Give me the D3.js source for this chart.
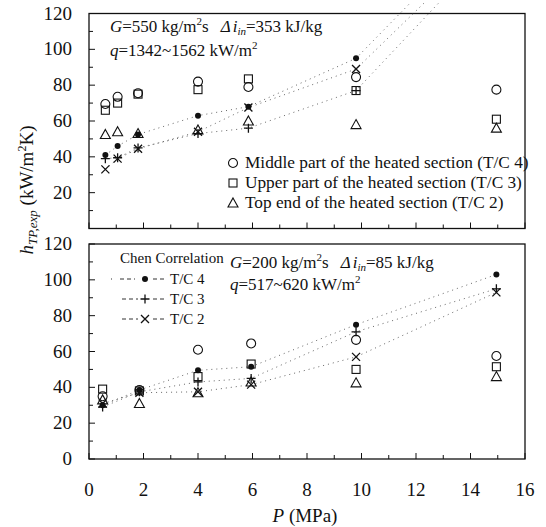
<!DOCTYPE html>
<html>
<head>
<meta charset="utf-8">
<script src="https://cdn.jsdelivr.net/npm/d3@7"></script>
<style>
  body { margin: 0; background: #fff; }
</style>
</head>
<body>
<script>
const W = 546, H = 527;
const FONT = '"Liberation Serif", "Times New Roman", serif';

// --- data ---
const xTicks = [0, 2, 4, 6, 8, 10, 12, 14, 16];
const yTicks = [0, 20, 40, 60, 80, 100, 120];

// upper panel: G=550
const topP      = [0.6, 1.05, 1.8, 4.0, 5.85, 9.8, 14.95];
const topMiddle = [69.5, 73.5, 75.5, 82, 79, 84.5, 77.5];   // T/C 4, open circle
const topUpper  = [66, 70, 75, 77.5, 83.5, 77, 61];         // T/C 3, open square
const topEnd    = [52.5, 54, 53, 55, 60, 58, 56];           // T/C 2, open triangle
const topChen4  = [41, 46, 52.5, 63, 68, 95, 175];
const topChen3  = [39, 39.5, 45, 53, 56, 77, 160];
const topChen2  = [33, 39, 44.5, 54, 67.5, 89, 165];

// lower panel: G=200
const botP      = [0.5, 1.85, 4.0, 5.95, 9.8, 14.95];
const botMiddle = [35, 38.5, 61, 64.5, 66.5, 57.5];
const botUpper  = [39, 38, 46, 53, 50, 51.5];
const botEnd    = [33, 31, 37, 43, 42.5, 46];
const botChen4  = [30, 38.5, 49.5, 51.5, 75, 103];
const botChen3  = [29, 37.5, 43, 45, 71, 95];
const botChen2  = [31, 37, 37.5, 41.5, 57, 93];

const svg = d3.select('body').append('svg')
  .attr('width', W).attr('height', H)
  .style('font-family', FONT);

const x = d3.scaleLinear().domain([0, 16]).range([89, 525]);

// marker shapes
const marks = {
  circle:   (g) => g.append('circle').attr('r', 4.5).attr('fill', 'none').attr('stroke', '#111').attr('stroke-width', 1.1),
  square:   (g) => g.append('rect').attr('x', -4).attr('y', -4).attr('width', 8).attr('height', 8).attr('fill', 'none').attr('stroke', '#111').attr('stroke-width', 1.1),
  triangle: (g) => g.append('path').attr('d', 'M0,-5L5,4H-5Z').attr('fill', 'none').attr('stroke', '#111').attr('stroke-width', 1.1),
  dot:      (g) => g.append('circle').attr('r', 3).attr('fill', '#111'),
  plus:     (g) => g.append('path').attr('d', 'M-4.5,0H4.5M0,-4.5V4.5').attr('stroke', '#111').attr('stroke-width', 1.3),
  cross:    (g) => g.append('path').attr('d', 'M-4,-4L4,4M-4,4L4,-4').attr('stroke', '#111').attr('stroke-width', 1.3)
};

function panel(id, yTop, yBottom, P, series, chen, showXLabels, showZero) {
  const y = d3.scaleLinear().domain([0, 120]).range([yBottom, yTop]);
  const g = svg.append('g');
  const clipTop = id === 'c1' ? 2 : yTop;

  svg.append('clipPath').attr('id', id)
    .append('rect').attr('x', x(0)).attr('y', clipTop)
    .attr('width', x(16) - x(0)).attr('height', yBottom - clipTop);

  // frame
  g.append('rect').attr('x', x(0)).attr('y', yTop)
    .attr('width', x(16) - x(0)).attr('height', yBottom - yTop)
    .attr('fill', 'none').attr('stroke', '#111').attr('stroke-width', 1.3);

  // y ticks inward
  d3.range(0, 121, 10).forEach(v => {
    g.append('line').attr('x1', x(0)).attr('x2', x(0) + (v % 20 === 0 ? 6 : 4))
      .attr('y1', y(v)).attr('y2', y(v)).attr('stroke', '#111');
  });
  yTicks.filter(v => showZero || v > 0).forEach(v => {
    g.append('text').attr('x', 72).attr('y', y(v) + 6)
      .attr('text-anchor', 'end').attr('font-size', 19).attr('fill', '#111').text(v);
  });

  // x ticks inward
  d3.range(0, 17, 1).forEach(v => {
    g.append('line').attr('x1', x(v)).attr('x2', x(v))
      .attr('y1', yBottom).attr('y2', yBottom - (v % 2 === 0 ? 6 : 4)).attr('stroke', '#111');
  });
  if (showXLabels) {
    xTicks.forEach(v => {
      g.append('text').attr('x', x(v)).attr('y', yBottom + 37)
        .attr('text-anchor', 'middle').attr('font-size', 19).attr('fill', '#111').text(v);
    });
  }

  const clipped = g.append('g').attr('clip-path', `url(#${id})`);

  // Chen correlation dotted lines
  const line = d3.line().x((d, i) => x(P[i])).y(d => y(d));
  chen.forEach(s => {
    clipped.append('path').attr('d', line(s.values))
      .attr('fill', 'none').attr('stroke', '#666').attr('stroke-width', 1)
      .attr('stroke-dasharray', '1,4');
  });

  // markers
  series.concat(chen).forEach(s => {
    s.values.forEach((v, i) => {
      const m = clipped.append('g').attr('transform', `translate(${x(P[i])},${y(v)})`);
      marks[s.shape](m);
    });
  });
  return y;
}

panel('c1', 13.5, 228.5, topP,
  [{values: topMiddle, shape: 'circle'}, {values: topUpper, shape: 'square'}, {values: topEnd, shape: 'triangle'}],
  [{values: topChen4, shape: 'dot'}, {values: topChen3, shape: 'plus'}, {values: topChen2, shape: 'cross'}],
  false, false);

panel('c2', 244, 459, botP,
  [{values: botMiddle, shape: 'circle'}, {values: botUpper, shape: 'square'}, {values: botEnd, shape: 'triangle'}],
  [{values: botChen4, shape: 'dot'}, {values: botChen3, shape: 'plus'}, {values: botChen2, shape: 'cross'}],
  true, true);

// condition annotations
function condText(x0, y0, parts) {
  const t = svg.append('text').attr('x', x0).attr('y', y0).attr('font-size', 17).attr('fill', '#111');
  parts.forEach(p => {
    const s = t.append('tspan').text(p.t);
    if (p.i) s.attr('font-style', 'italic');
    if (p.sup) s.attr('dy', -7).attr('font-size', 11);
    if (p.down) s.attr('dy', p.down);
    if (p.sub) s.attr('dy', 3).attr('font-size', 11);
    if (p.dx) s.attr('dx', p.dx);
  });
}
condText(110, 32, [{t: 'G', i: 1}, {t: '=550 kg/m'}, {t: '2', sup: 1}, {t: 's', down: 7},
  {t: 'Δ', i: 1, dx: 12}, {t: 'i', i: 1, dx: 2}, {t: 'in', i: 1, sub: 1}, {t: '=353 kJ/kg', down: -3}]);
condText(110, 56, [{t: 'q', i: 1}, {t: '=1342~1562 kW/m'}, {t: '2', sup: 1}]);
condText(230, 268, [{t: 'G', i: 1}, {t: '=200 kg/m'}, {t: '2', sup: 1}, {t: 's', down: 7},
  {t: 'Δ', i: 1, dx: 12}, {t: 'i', i: 1, dx: 2}, {t: 'in', i: 1, sub: 1}, {t: '=85 kJ/kg', down: -3}]);
condText(230, 290, [{t: 'q', i: 1}, {t: '=517~620 kW/m'}, {t: '2', sup: 1}]);

// top legend (measured data)
const legTop = [
  {shape: 'circle', label: 'Middle part of the heated section (T/C 4)'},
  {shape: 'square', label: 'Upper part of the heated section (T/C 3)'},
  {shape: 'triangle', label: 'Top end of the heated section (T/C 2)'}
];
legTop.forEach((d, i) => {
  const yy = 163 + i * 20;
  marks[d.shape](svg.append('g').attr('transform', `translate(233,${yy})`));
  svg.append('text').attr('x', 245).attr('y', yy + 5).attr('font-size', 17.3)
    .attr('fill', '#111').text(d.label);
});

// bottom legend (Chen correlation)
svg.append('text').attr('x', 120).attr('y', 263).attr('font-size', 15)
  .attr('fill', '#111').text('Chen Correlation');
const legBot = [
  {shape: 'dot', label: 'T/C 4', x0: 111},
  {shape: 'plus', label: 'T/C 3', x0: 122},
  {shape: 'cross', label: 'T/C 2', x0: 122}
];
legBot.forEach((d, i) => {
  const yy = 279 + i * 20;
  svg.append('line').attr('x1', d.x0).attr('x2', 138).attr('y1', yy).attr('y2', yy)
    .attr('stroke', '#333').attr('stroke-dasharray', i === 0 ? '1,8,4,3,4,3' : '4,3');
  svg.append('line').attr('x1', 153).attr('x2', 166).attr('y1', yy).attr('y2', yy)
    .attr('stroke', '#333').attr('stroke-dasharray', '4,3');
  marks[d.shape](svg.append('g').attr('transform', `translate(145,${yy})`));
  svg.append('text').attr('x', 170).attr('y', yy + 5).attr('font-size', 15)
    .attr('fill', '#111').text(d.label);
});

// axis titles
const yl = svg.append('text').attr('transform', 'translate(33,190) rotate(-90)')
  .attr('text-anchor', 'middle').attr('font-size', 19).attr('fill', '#111');
yl.append('tspan').attr('font-style', 'italic').text('h');
yl.append('tspan').attr('font-style', 'italic').attr('font-size', 13).attr('dy', 4).text('TP,exp');
yl.append('tspan').attr('dy', -4).text(' (kW/m');
yl.append('tspan').attr('font-size', 12).attr('dy', -7).text('2');
yl.append('tspan').attr('dy', 7).text('K)');

const xl = svg.append('text').attr('x', 305).attr('y', 522)
  .attr('text-anchor', 'middle').attr('font-size', 19).attr('fill', '#111');
xl.append('tspan').attr('font-style', 'italic').text('P');
xl.append('tspan').text(' (MPa)');
</script>
</body>
</html>
